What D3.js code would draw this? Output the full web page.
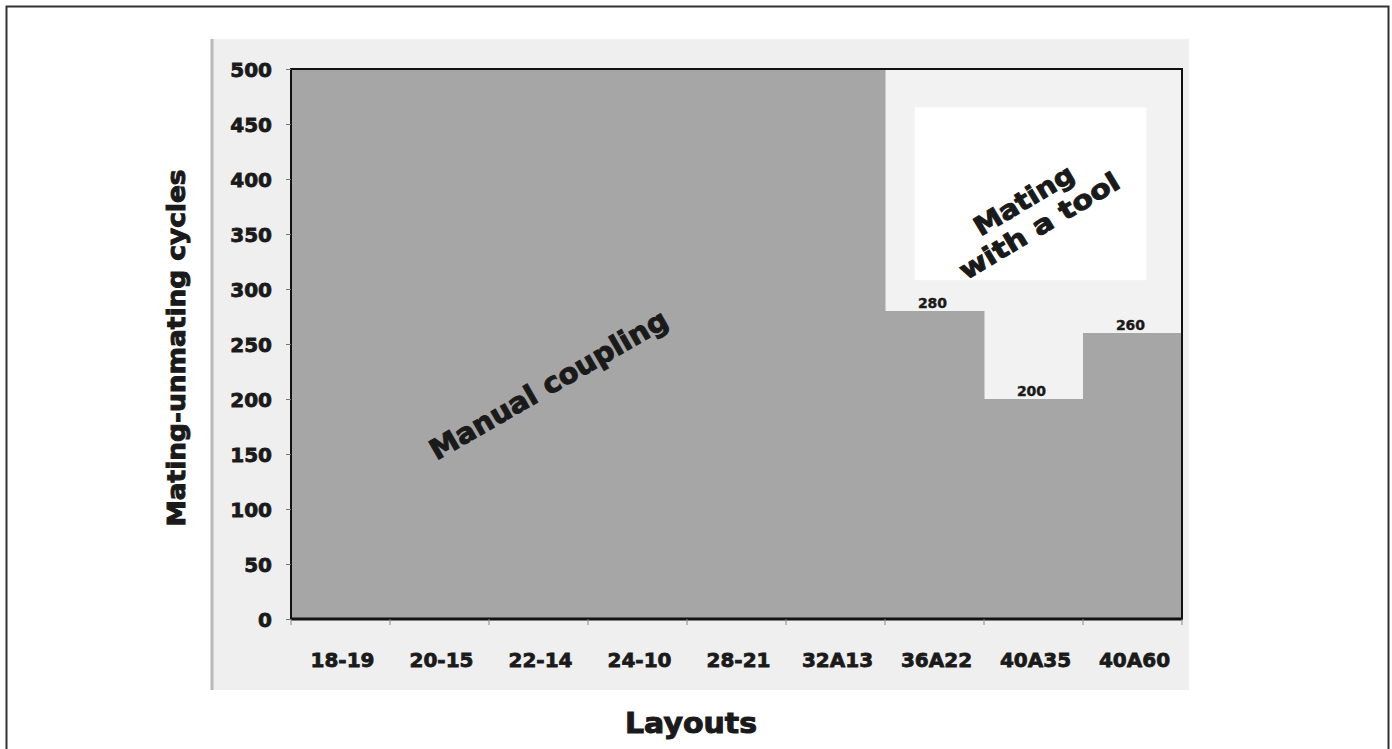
<!DOCTYPE html>
<html>
<head>
<meta charset="utf-8">
<script src="https://cdn.jsdelivr.net/npm/d3@7"></script>
<style>
  body { margin: 0; background: #fff; }
  text { font-family: "DejaVu Sans", sans-serif; font-weight: bold; fill: #1a1a1a; stroke: #1a1a1a; stroke-width: 0.8px; }
</style>
</head>
<body>
<div id="chart"></div>
<script>
	// chart data
	const layouts = ["18-19", "20-15", "22-14", "24-10", "28-21", "32A13", "36A22", "40A35", "40A60"];
	const cycles = [500, 500, 500, 500, 500, 500, 280, 200, 260];
	const labelledLayouts = ["36A22", "40A35", "40A60"];
	const yTicks = [0, 50, 100, 150, 200, 250, 300, 350, 400, 450, 500];

	const W = 1392, H = 749;
	const margin = {top: 69, right: 210, bottom: 130, left: 291};
	const width = W - margin.left - margin.right;
	const height = H - margin.top - margin.bottom;

	const root = d3.select("#chart")
	  .append("svg")
	    .attr("width", W)
	    .attr("height", H);

	// outer frame
	root.append("rect")
	    .attr("x", 6.5).attr("y", 6.5)
	    .attr("width", 1382).attr("height", 770)
	    .attr("fill", "#fff")
	    .attr("stroke", "#333").attr("stroke-width", 2);

	// grey chart panel
	root.append("rect")
	    .attr("x", 211).attr("y", 39)
	    .attr("width", 978).attr("height", 651)
	    .attr("fill", "#efefef");
	root.append("line")
	    .attr("x1", 212).attr("x2", 212).attr("y1", 39).attr("y2", 690)
	    .attr("stroke", "#b8b8b8").attr("stroke-width", 3);

	const svg = root.append("g")
	    .attr("transform", `translate(${margin.left},${margin.top})`);

	const x = d3.scaleBand()
	  .range([0, width])
	  .domain(layouts)
	  .padding(0);
	const y = d3.scaleLinear()
	  .domain([0, 500])
	  .range([height, 0]);
	const bw = x.bandwidth();

	// plot background
	svg.append("rect")
	    .attr("width", width).attr("height", height)
	    .attr("fill", "#f2f2f2");

	// white box behind the tool label
	svg.append("rect")
	    .attr("x", x("36A22") + 0.3 * bw)
	    .attr("y", y(465))
	    .attr("width", x("40A60") + 0.64 * bw - (x("36A22") + 0.3 * bw))
	    .attr("height", y(308) - y(465))
	    .attr("fill", "#fff");

	// bars
	svg.selectAll("rect.bar")
	  .data(layouts.map((d, i) => ({layout: d, value: cycles[i]})))
	  .join("rect")
	    .attr("class", "bar")
	    .attr("x", d => x(d.layout))
	    .attr("y", d => y(d.value))
	    .attr("width", bw + 0.5)
	    .attr("height", d => height - y(d.value))
	    .attr("fill", "#a6a6a6");

	// value labels
	svg.selectAll("text.val")
	  .data(layouts.map((d, i) => ({layout: d, value: cycles[i]})).filter(d => labelledLayouts.includes(d.layout)))
	  .join("text")
	    .attr("class", "val")
	    .attr("x", d => x(d.layout) + bw / 2 - 2)
	    .attr("y", d => y(d.value) - 3)
	    .attr("text-anchor", "middle")
	    .style("font-size", "14px")
	    .style("stroke-width", "0.4px")
	    .text(d => d.value);

	// plot frame
	svg.append("rect")
	    .attr("width", width).attr("height", height)
	    .attr("fill", "none")
	    .attr("stroke", "#111").attr("stroke-width", 2);

	// Y axis
	const yAxis = svg.append("g")
	  .call(d3.axisLeft(y).tickValues(yTicks).tickSize(5).tickPadding(14));
	yAxis.select(".domain").remove();
	yAxis.selectAll("line").attr("stroke", "#777");
	yAxis.selectAll("text")
	    .style("font-size", "20px")
	    .attr("dy", "0.36em")
	    .attr("fill", "#1a1a1a")
	    .style("font-family", "DejaVu Sans").style("font-weight", "bold");

	// X axis: ticks at band edges, labels centred
	svg.append("line")
	    .attr("x1", 0).attr("x2", width)
	    .attr("y1", height).attr("y2", height)
	    .attr("stroke", "#111").attr("stroke-width", 3);
	svg.selectAll("line.xtick")
	  .data(layouts.concat(["end"]))
	  .join("line")
	    .attr("class", "xtick")
	    .attr("x1", (d, i) => i * bw).attr("x2", (d, i) => i * bw)
	    .attr("y1", height).attr("y2", height + 6)
	    .attr("stroke", "#888");
	svg.selectAll("text.xlab")
	  .data(layouts)
	  .join("text")
	    .attr("class", "xlab")
	    .attr("x", d => x(d) + bw / 2 + 2)
	    .attr("y", height + 48)
	    .attr("text-anchor", "middle")
	    .style("font-size", "20px")
	    .text(d => d);

	// axis titles
	root.append("text")
	    .attr("transform", "translate(185,348) rotate(-90)")
	    .attr("text-anchor", "middle")
	    .attr("textLength", 357).attr("lengthAdjust", "spacingAndGlyphs")
	    .style("font-size", "24px")
	    .style("stroke-width", "1px")
	    .text("Mating-unmating cycles");
	root.append("text")
	    .attr("x", 691).attr("y", 733)
	    .attr("text-anchor", "middle")
	    .attr("textLength", 132).attr("lengthAdjust", "spacingAndGlyphs")
	    .style("font-size", "28px")
	    .style("stroke-width", "1px")
	    .text("Layouts");

	// region labels
	svg.append("text")
	    .attr("transform", `translate(${x("22-14") + 0.6 * bw},${y(213)}) rotate(-30)`)
	    .attr("text-anchor", "middle")
	    .attr("dy", "0.35em")
	    .attr("textLength", 270).attr("lengthAdjust", "spacingAndGlyphs")
	    .style("font-size", "28px")
	    .style("stroke-width", "1px")
	    .text("Manual coupling");

	const tool = svg.append("g")
	    .attr("transform", `translate(${x("40A35") + 0.48 * bw},${y(369)}) rotate(-31)`);
	tool.append("text")
	    .attr("y", -6)
	    .attr("text-anchor", "middle")
	    .attr("textLength", 112).attr("lengthAdjust", "spacingAndGlyphs")
	    .style("font-size", "26px")
	    .style("stroke-width", "1px")
	    .text("Mating");
	tool.append("text")
	    .attr("y", 24)
	    .attr("text-anchor", "middle")
	    .attr("textLength", 182).attr("lengthAdjust", "spacingAndGlyphs")
	    .style("font-size", "26px")
	    .style("stroke-width", "1px")
	    .text("with a tool");
</script>
</body>
</html>
